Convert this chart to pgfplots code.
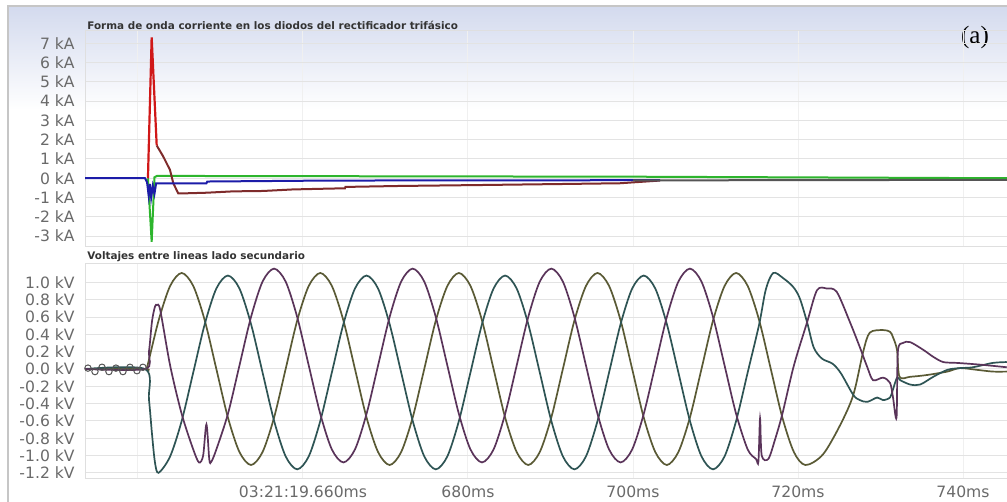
\documentclass[border=0pt]{standalone}
\usepackage{fontspec}
\setmainfont{DejaVu Sans}
\newfontfamily\serifa{Liberation Serif}
\usepackage{pgfplots}
\pgfplotsset{compat=1.18}
\definecolor{tickc}{HTML}{6A6A6A}
\definecolor{bgtop}{HTML}{D3DAEE}
\definecolor{cA}{HTML}{5A5A35}
\definecolor{cB}{HTML}{2E5454}
\definecolor{cC}{HTML}{5A345A}
\definecolor{cred}{HTML}{D01818}
\definecolor{cbrown}{HTML}{7E2B2B}
\definecolor{cgreen}{HTML}{2DB52D}
\definecolor{cblue}{HTML}{1C1CA8}
\definecolor{cgray}{HTML}{555555}
\pgfplotsset{
  common/.style={
    scale only axis, width=461pt, anchor=north west,
    xmin=633.58, xmax=745.33,
    xtick={640,660,680,700,720,740},
    xmajorgrids, ymajorgrids,
    major x grid style={color=gray!12, line width=0.5pt},
    major y grid style={color=gray!22, line width=0.5pt},
    tick style={draw=none},
    axis line style={gray!25},
    yticklabel style={font=\fontsize{7.8}{8}\selectfont, text=tickc, anchor=east, inner sep=0pt, xshift=-5pt},
    xticklabel style={font=\fontsize{7.8}{8}\selectfont, text=tickc, anchor=north, inner sep=0pt, yshift=-4pt},
  }
}
\begin{document}
\begin{tikzpicture}
\useasboundingbox (0,0) rectangle (503.5pt,-251pt);
\fill[white] (0,0) rectangle (503.5pt,-251pt);
\shade[top color=bgtop, bottom color=white] (4pt,-3pt) rectangle (503.5pt,-55pt);
\draw[gray!45, line width=0.6pt] (4pt,-251pt) -- (4pt,-3pt) -- (503.5pt,-3pt);

\node[anchor=west, inner sep=0pt, font=\fontsize{5.2}{6}\selectfont\bfseries, text=black!80] at (43.5pt,-12.5pt) {Forma de onda corriente en los diodos del rectificador trifásico};
\node[anchor=west, inner sep=0pt, font=\fontsize{5.2}{6}\selectfont\bfseries, text=black!80] at (43.5pt,-128.5pt) {Voltajes entre lineas lado secundario};
\node[inner sep=0pt, font=\serifa\fontsize{12.5}{13}\selectfont] at (487.5pt,-18.5pt) {(a)};

% ---------- top: diode currents ----------
\begin{axis}[common, at={(42.5pt,-15pt)}, height=108pt,
  ymin=-3.51, ymax=7.68,
  xticklabels={},
  ytick={-3,-2,-1,0,1,2,3,4,5,6,7},
  yticklabels={-3 kA,-2 kA,-1 kA,0 kA,1 kA,2 kA,3 kA,4 kA,5 kA,6 kA,7 kA},
]
\addplot[cgreen, line width=1pt] coordinates {(641.21,0) (641.66,-3.3) (642.0,0.05) (642.3,0.12) (700,0.08) (745.3,0.0)};
\addplot[cbrown, line width=1pt] coordinates {(642.27,1.7) (643.07,1.12) (643.88,0.43) (644.28,-0.26) (644.88,-0.78) (645.9,-0.78) (648.33,-0.75) (651.52,-0.68) (655.15,-0.66) (658.79,-0.58) (662.91,-0.54) (665.09,-0.52) (665.15,-0.45) (671.76,-0.40) (681.82,-0.35) (691.15,-0.30) (698.42,-0.26) (703.27,-0.12)};
\addplot[cblue, line width=1pt] coordinates {(633.58,0) (640.85,0) (641.1,-0.2) (641.3,-0.9) (641.45,-0.3) (641.6,-1.0) (641.8,-0.4) (642.0,-0.8) (642.2,-0.26) (648.3,-0.26) (648.4,-0.17) (663,-0.12) (703.3,-0.1)};
\addplot[cgray, line width=1pt] coordinates {(700,-0.11) (720,-0.1) (745.3,-0.08)};
\addplot[cred, line width=1.1pt] coordinates {(641.21,0) (641.66,7.3) (642.27,1.7)};
\end{axis}

% ---------- bottom: line voltages ----------
\begin{axis}[common, at={(42.5pt,-131.5pt)}, height=107.5pt,
  ymin=-1.26, ymax=1.225,
  xticklabels={{},03:21:19.660ms,680ms,700ms,720ms,740ms},
  ytick={-1.2,-1.0,-0.8,-0.6,-0.4,-0.2,0,0.2,0.4,0.6,0.8,1.0},
  yticklabels={-1.2 kV,-1.0 kV,-0.8 kV,-0.6 kV,-0.4 kV,-0.2 kV,0.0 kV,0.2 kV,0.4 kV,0.6 kV,0.8 kV,1.0 kV},
]
% phase A
\addplot[cA, line width=0.85pt, smooth] coordinates {
(633.58,0) (640.85,0) (641.1,0.02) (642.5,0.56) (643.9,0.96)
(645.3,1.11) (646.7,0.96) (648.1,0.56) (649.5,0) (650.9,-0.56) (652.3,-0.96)
(653.7,-1.11) (655.1,-0.96) (656.5,-0.56) (657.9,0) (659.3,0.56) (660.7,0.96)
(662.1,1.11) (663.5,0.96) (664.9,0.56) (666.3,0) (667.7,-0.56) (669.1,-0.96)
(670.5,-1.11) (671.9,-0.96) (673.3,-0.56) (674.7,0) (676.1,0.56) (677.5,0.96)
(678.9,1.11) (680.3,0.96) (681.7,0.56) (683.1,0) (684.5,-0.56) (685.9,-0.96)
(687.3,-1.11) (688.7,-0.96) (690.1,-0.56) (691.5,0) (692.9,0.56) (694.3,0.96)
(695.7,1.11) (697.1,0.96) (698.5,0.56) (699.9,0) (701.3,-0.56) (702.7,-0.96)
(704.1,-1.11) (705.5,-0.96) (706.9,-0.56) (708.3,0) (709.7,0.56) (711.1,0.96)
(712.5,1.11) (713.9,0.96) (715.3,0.56) (716.7,0) (718.1,-0.56) (719.5,-0.96)
(720.9,-1.11) (723.0,-0.99) (725.1,-0.65) (726.7,-0.30) (727.9,0.20) (728.7,0.42)
(730.3,0.45) (731.15,0.43) (731.5,0.37) (732.0,0.22) (732.3,-0.09) (733.6,-0.09)
(735.6,-0.07) (738.1,-0.03) (739.6,0.01) (741.7,-0.01) (743.6,-0.03) (745.3,-0.03)};
% phase B
\addplot[cB, line width=0.85pt, smooth] coordinates {
(633.58,0) (640.85,0) (641.33,-0.35) (641.7,-0.75) (642.06,-1.08) (642.5,-1.2)
(643.9,-1.01) (645.3,-0.60) (646.7,-0.04) (648.1,0.52) (649.5,0.93)
(650.9,1.08) (652.3,0.93) (653.7,0.52) (655.1,-0.04) (656.5,-0.60) (657.9,-1.01)
(659.3,-1.16) (660.7,-1.01) (662.1,-0.60) (663.5,-0.04) (664.9,0.52) (666.3,0.93)
(667.7,1.08) (669.1,0.93) (670.5,0.52) (671.9,-0.04) (673.3,-0.60) (674.7,-1.01)
(676.1,-1.16) (677.5,-1.01) (678.9,-0.60) (680.3,-0.04) (681.7,0.52) (683.1,0.93)
(684.5,1.08) (685.9,0.93) (687.3,0.52) (688.7,-0.04) (690.1,-0.60) (691.5,-1.01)
(692.9,-1.16) (694.3,-1.01) (695.7,-0.60) (697.1,-0.04) (698.5,0.52) (699.9,0.93)
(701.3,1.08) (702.7,0.93) (704.1,0.52) (705.5,-0.04) (706.9,-0.60) (708.3,-1.01)
(709.7,-1.16) (711.1,-1.01) (712.5,-0.60) (713.9,-0.04) (715.3,0.52)
(716.1,0.92) (717.0,1.11) (718.2,1.05) (719.4,0.95) (720.2,0.82) (721.1,0.54)
(721.9,0.25) (722.9,0.12) (724.2,0.06) (725.2,-0.05) (726.7,-0.30) (727.5,-0.36)
(728.4,-0.38) (729.6,-0.33) (730.3,-0.36) (731.15,-0.33) (731.5,-0.24) (732.0,-0.10)
(732.4,-0.13) (733.6,-0.18) (734.8,-0.18) (736.4,-0.09) (738.1,-0.01) (739.6,0.01)
(741.2,0.02) (743.6,0.07) (745.3,0.08)};
% phase C
\addplot[cC, line width=0.85pt, smooth] coordinates {
(633.58,0) (640.85,0) (641.33,0.2) (641.7,0.55) (642.06,0.72) (642.3,0.74) (642.7,0.68)
(643.9,0.04) (645.3,-0.52) (646.7,-0.93)
(647.4,-1.08) (647.9,-1.0) (648.3,-0.64) (648.65,-1.05) (648.9,-1.07)
(649.5,-0.93) (650.9,-0.52) (652.3,0.04) (653.7,0.60) (655.1,1.01)
(656.5,1.16) (657.9,1.01) (659.3,0.60) (660.7,0.04) (662.1,-0.52) (663.5,-0.93)
(664.9,-1.08) (666.3,-0.93) (667.7,-0.52) (669.1,0.04) (670.5,0.60) (671.9,1.01)
(673.3,1.16) (674.7,1.01) (676.1,0.60) (677.5,0.04) (678.9,-0.52) (680.3,-0.93)
(681.7,-1.08) (683.1,-0.93) (684.5,-0.52) (685.9,0.04) (687.3,0.60) (688.7,1.01)
(690.1,1.16) (691.5,1.01) (692.9,0.60) (694.3,0.04) (695.7,-0.52) (697.1,-0.93)
(698.5,-1.08) (699.9,-0.93) (701.3,-0.52) (702.7,0.04) (704.1,0.60) (705.5,1.01)
(706.9,1.16) (708.3,1.01) (709.7,0.60) (711.1,0.04) (712.5,-0.52) (713.9,-0.93)
(714.9,-1.04) (715.2,-1.07) (715.4,-0.57) (715.6,-1.0) (716.4,-1.04) (717.2,-0.82)
(718.1,-0.52) (719.5,0.04) (721.1,0.54) (722.3,0.91) (723.5,0.93) (724.7,0.89)
(726.3,0.54) (727.5,0.25) (728.4,0.02) (729.1,-0.13) (730.3,-0.10) (731.15,-0.16)
(731.5,-0.32) (731.94,-0.56) (732.1,0.2) (732.7,0.30) (733.6,0.31) (735.2,0.22)
(736.4,0.14) (737.6,0.08) (739.3,0.07) (742.1,0.05) (745.3,0.02)};
% pre-event markers
\addplot[only marks, mark=o, mark size=1.6pt, draw=cgray, line width=0.5pt] coordinates {
(633.94,0.01) (634.79,-0.03) (635.64,0.02) (636.48,-0.03) (637.33,0.01) (638.18,-0.03) (639.03,0.02) (639.88,-0.02) (640.6,0.02)};
\end{axis}
\end{tikzpicture}
\end{document}
